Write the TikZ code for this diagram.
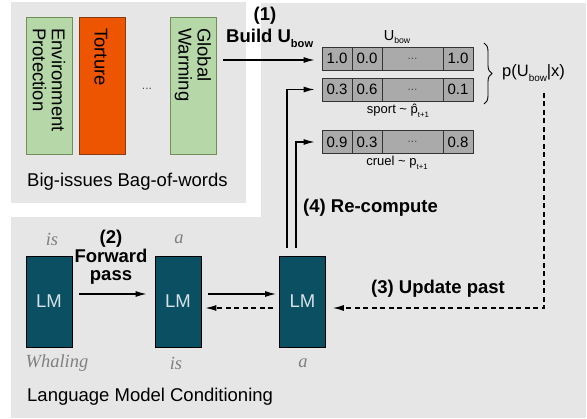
\documentclass[tikz,border=0pt]{standalone}
\usepackage{fontspec}
\setmainfont{Liberation Sans}
\newfontfamily\tnr{Liberation Serif}
\usetikzlibrary{arrows.meta,decorations.pathreplacing}
\definecolor{panel}{HTML}{E6E6E6}
\definecolor{gfill}{HTML}{B6D7A8}
\definecolor{gline}{HTML}{6F8F58}
\definecolor{ofill}{HTML}{EE5500}
\definecolor{oline}{HTML}{8A3A10}
\definecolor{lmfill}{HTML}{0B4F62}
\definecolor{lmtext}{HTML}{D5E3E8}
\definecolor{cellfill}{HTML}{AAAAAA}
\definecolor{itgray}{HTML}{808080}
\newcommand{\lowsub}[1]{\raisebox{-0.5ex}{\scalebox{0.6}{#1}}}
\begin{document}
\begin{tikzpicture}[x=1pt,y=-1pt,
 base/.style={font=\fontsize{18.5}{19}\selectfont, inner sep=0pt},
 boldlab/.style={font=\fontsize{18.5}{18.5}\selectfont\bfseries, inner sep=0pt},
 itlab/.style={font=\tnr\itshape\fontsize{18.5}{19}\selectfont, text=itgray, inner sep=0pt},
 greenbox/.style={draw=gline, fill=gfill, line width=0.8pt, minimum width=46pt, minimum height=137pt, inner sep=0pt},
 orangebox/.style={greenbox, draw=oline, fill=ofill},
 rottext/.style={base, rotate=-90, anchor=west, align=left},
 lmbox/.style={draw=black, fill=lmfill, line width=0.8pt, minimum width=46pt, minimum height=91pt, inner sep=0pt, text=lmtext, font=\fontsize{18.5}{19}\selectfont},
 cell/.style={draw=black!80, fill=cellfill, line width=0.8pt, minimum height=23pt, minimum width=30pt, inner sep=0pt, font=\fontsize{15}{15}\selectfont},
 widecell/.style={cell, minimum width=61pt},
 dots/.style={font=\fontsize{12}{12}\selectfont, text=black!70},
 smalllab/.style={font=\fontsize{13}{13}\selectfont, inner sep=0pt},
 arr/.style={-{Latex[length=11pt,width=6pt]}, line width=1.2pt},
 dasharr/.style={arr, dash pattern=on 5pt off 3.5pt, line width=1.1pt},
]
\useasboundingbox (0,0) rectangle (587,419);
% panels
\fill[panel] (11,2) rectangle (246,203);
\fill[panel] (261,3) rectangle (586,417);
\fill[panel] (11,217) rectangle (586,418);

% bag of words
\node[greenbox] (ep) at (49,85.5) {};
\node[orangebox] (tor) at (102,85.5) {};
\node[greenbox] (gw) at (193,85.5) {};
\node[rottext] (eptxt) at (49,28) {Environment\\Protection};
\node[rottext] (tortxt) at (101,28) {Torture};
\node[rottext] (gwtxt) at (193,28) {Global\\Warming};
\node[dots] (bowdots) at (147,89) {...};
\node[base, anchor=west] (bowtitle) at (27,182) {Big-issues Bag-of-words};

% matrix rows
\node[cell] (r1a) at (337,58.5) {1.0};
\node[cell] (r1b) at (367,58.5) {0.0};
\node[widecell] (r1c) at (412.5,58.5) {\tikz[baseline]\node[dots,inner sep=0pt]{...};};
\node[cell] (r1d) at (458,58.5) {1.0};
\node[cell] (r2a) at (337,89.5) {0.3};
\node[cell] (r2b) at (367,89.5) {0.6};
\node[widecell] (r2c) at (412.5,89.5) {\tikz[baseline]\node[dots,inner sep=0pt]{...};};
\node[cell] (r2d) at (458,89.5) {0.1};
\node[cell] (r3a) at (337,142) {0.9};
\node[cell] (r3b) at (367,142) {0.3};
\node[widecell] (r3c) at (412.5,142) {\tikz[baseline]\node[dots,inner sep=0pt]{...};};
\node[cell] (r3d) at (458,142) {0.8};

\node[font=\fontsize{14.5}{15}\selectfont, inner sep=0pt] (ubow) at (397,37) {U\lowsub{bow}};
\node[smalllab] (sport) at (398,111) {sport \textasciitilde\ \^{p}\lowsub{t+1}};
\node[smalllab] (cruel) at (397,163) {cruel \textasciitilde\ p\lowsub{t+1}};

% brace and p label
\draw[line width=0.9pt, decorate, decoration={brace, amplitude=8pt}] (484,43) -- (484,104);
\node[font=\fontsize{16.5}{17}\selectfont, inner sep=0pt, anchor=west] (plab) at (502,73) {p(U\lowsub{bow}|x)};

% step 1
\node[boldlab] (one) at (265,16) {(1)};
\node[boldlab, anchor=west] (build) at (226,38) {Build U\lowsub{bow}};
\coordinate (bstart) at (223,60);
\draw[arr] (bstart) -- ([xshift=-7pt, yshift=-1.5pt]r1a.west);

% LMs
\node[lmbox] (lm1) at (49,301.5) {LM};
\node[lmbox] (lm2) at (178,301.5) {LM};
\node[lmbox] (lm3) at (302.5,301.5) {LM};
\node[itlab] (is1) at (52,239) {is};
\node[itlab] (a1) at (179,239) {a};
\node[itlab] (wh) at (57,363) {Whaling};
\node[itlab] (is2) at (176,363) {is};
\node[itlab] (a2) at (303,363) {a};
\node[boldlab, align=center] (fwd) at (111,257.5) {(2)\\Forward\\pass};

\draw[arr] ([xshift=7pt, yshift=7.5pt]lm1.east) -- ([xshift=-8pt, yshift=7.5pt]lm2.west);
\draw[arr] ([xshift=7pt, yshift=7.5pt]lm2.east) -- ([xshift=-3pt, yshift=7.5pt]lm3.west);
\draw[dasharr] ([xshift=-6pt, yshift=-6.5pt]lm3.west) -- ([xshift=4pt, yshift=-6.5pt]lm2.east);

% recompute lines
\draw[arr] ([xshift=-15.5pt, yshift=8pt]lm3.north) |- ([xshift=-7pt]r2a.west);
\draw[arr] ([xshift=-6.5pt, yshift=8pt]lm3.north) |- ([xshift=-7pt]r3a.west);
\node[boldlab, anchor=west] (recomp) at (303,208) {(4) Re-compute};

% update past
\coordinate (dtop) at (544,93);
\draw[dasharr] (dtop) |- ([xshift=7pt, yshift=-6.5pt]lm3.east);
\node[boldlab, anchor=west] (upd) at (371,289) {(3) Update past};

\node[base, anchor=west] (lmc) at (27,397) {Language Model Conditioning};
\end{tikzpicture}
\end{document}
